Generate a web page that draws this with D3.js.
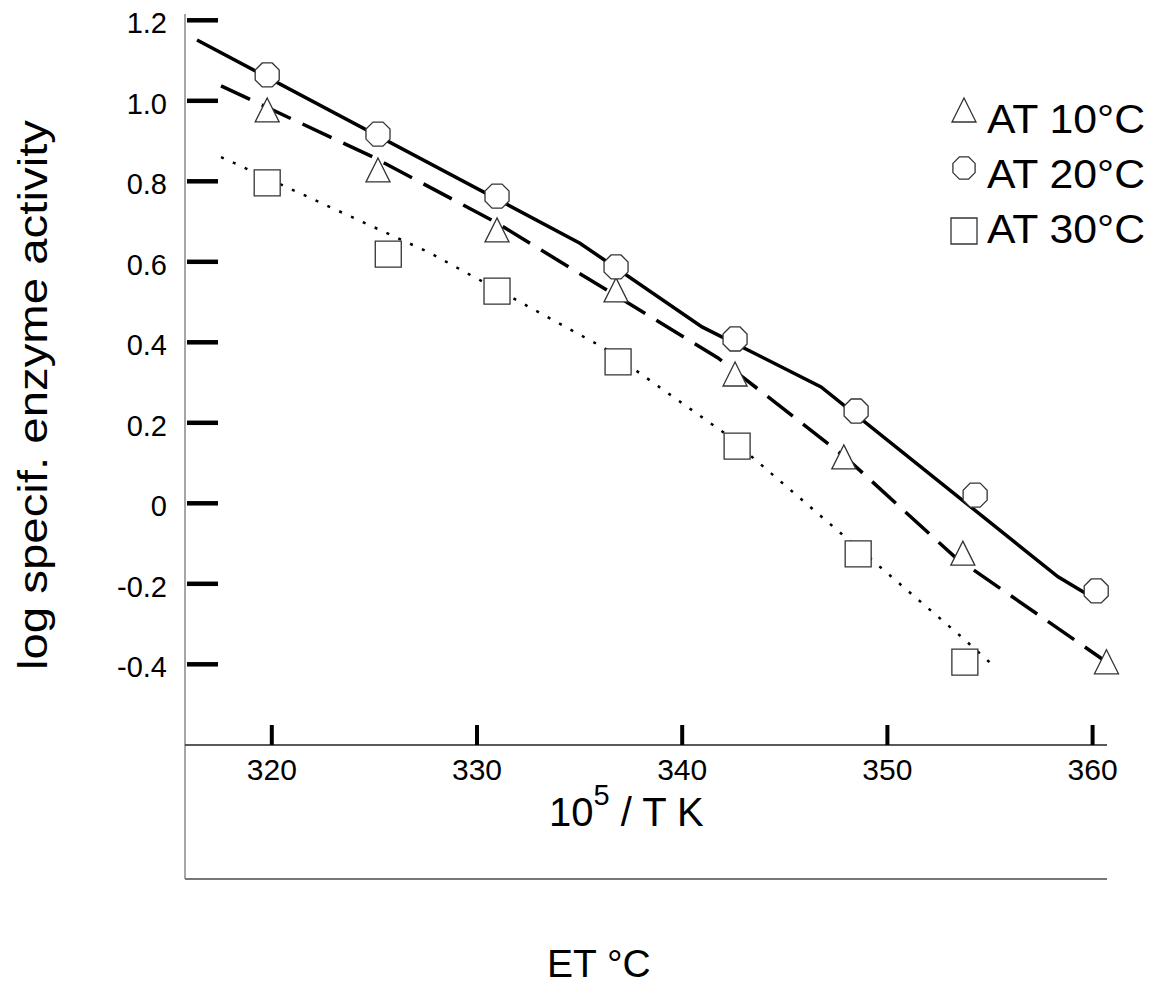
<!DOCTYPE html>
<html>
<head>
<meta charset="utf-8">
<script src="https://cdn.jsdelivr.net/npm/d3@7/dist/d3.min.js"></script>
<style>
  body { margin: 0; background: #fff; }
  text { font-family: "Liberation Sans", Arial, sans-serif; fill: #000; }
</style>
</head>
<body>
<div id="chart"></div>
<script>
// axis ticks
const xTicks = [320, 330, 340, 350, 360];
const yTicks = [-0.4, -0.2, 0, 0.2, 0.4, 0.6, 0.8, 1.0, 1.2];
const yTickLabels = ["-0.4", "-0.2", "0", "0.2", "0.4", "0.6", "0.8", "1.0", "1.2"];

const seriesNames = ["AT 10°C", "AT 20°C", "AT 30°C"];

// measured points (10^5 / T, log activity)
const x10 = [319.8, 325.2, 331.0, 336.8, 342.6, 347.9, 353.7, 360.7];
const y10 = [0.976, 0.827, 0.678, 0.529, 0.320, 0.114, -0.125, -0.395];
const x20 = [319.8, 325.2, 331.0, 336.8, 342.6, 348.5, 354.3, 360.2];
const y20 = [1.063, 0.916, 0.762, 0.586, 0.407, 0.228, 0.019, -0.219];
const x30 = [319.8, 325.7, 331.0, 336.9, 342.7, 348.6, 353.8];
const y30 = [0.795, 0.618, 0.526, 0.350, 0.141, -0.127, -0.396];

// drawn curves through the points
const fitX10 = [317.55, 324.96, 330.90, 341.77, 347.96, 353.32, 360.63];
const fitY10 = [1.036, 0.859, 0.698, 0.360, 0.114, -0.135, -0.393];
const fitX20 = [316.38, 335.04, 340.99, 346.79, 358.34, 359.76];
const fitY20 = [1.150, 0.645, 0.437, 0.288, -0.184, -0.227];
const fitX30 = [317.55, 327.73, 336.21, 342.01, 353.70, 355.26];
const fitY30 = [0.859, 0.621, 0.385, 0.176, -0.336, -0.408];

let width = 1154, height = 988;

const svg = d3.select("#chart").append("svg")
    .attr("width", width)
    .attr("height", height);

svg.append("rect").attr("width", width).attr("height", height).attr("fill", "#fff");

let x = d3.scaleLinear().domain([320, 360]).range([271.3, 1092.1]);
let y = d3.scaleLinear().domain([-0.4, 1.2]).range([663.8, 19.8]);

// frame lines
svg.append("line").attr("x1", 185).attr("x2", 185).attr("y1", 14).attr("y2", 879)
   .attr("stroke", "#888").attr("stroke-width", 1.5);
svg.append("line").attr("x1", 185).attr("x2", 1107).attr("y1", 745).attr("y2", 745)
   .attr("stroke", "#222").attr("stroke-width", 1.5);
svg.append("line").attr("x1", 185).attr("x2", 1107).attr("y1", 879).attr("y2", 879)
   .attr("stroke", "#777").attr("stroke-width", 2);

// x axis - ticks point up, labels below
let xAxis = svg.append("g")
    .attr("transform", "translate(0,745)")
    .call(d3.axisBottom(x).tickValues(xTicks).tickSize(-20).tickSizeOuter(0).tickPadding(14));
xAxis.select(".domain").remove();
xAxis.selectAll(".tick line").attr("stroke", "#000").attr("stroke-width", 4);
xAxis.selectAll(".tick text").attr("font-size", 30).attr("font-family", null);

// y axis - ticks point right
let yAxis = svg.append("g")
    .attr("transform", "translate(187,0)")
    .call(d3.axisLeft(y).tickValues(yTicks).tickFormat((d, i) => yTickLabels[i])
        .tickSize(-31).tickSizeOuter(0).tickPadding(20));
yAxis.select(".domain").remove();
yAxis.selectAll(".tick line").attr("stroke", "#000").attr("stroke-width", 4.5);
yAxis.selectAll(".tick text").attr("font-size", 29).attr("dy", "0.45em").attr("font-family", null);

// axis titles
svg.append("text")
   .attr("transform", "translate(47,395) rotate(-90)")
   .attr("text-anchor", "middle")
   .attr("font-size", 40)
   .attr("textLength", 550)
   .attr("lengthAdjust", "spacingAndGlyphs")
   .text("log specif. enzyme activity");

let xt = svg.append("text").attr("x", 549).attr("y", 826).attr("font-size", 40);
xt.append("tspan").text("10");
xt.append("tspan").attr("dy", -21).attr("font-size", 29).text("5");
xt.append("tspan").attr("dy", 21).text(" / T K");

svg.append("text").attr("x", 547).attr("y", 977).attr("font-size", 39).text("ET °C");

// curves
let line = d3.line().x(d => x(d[0])).y(d => y(d[1]));

svg.append("path").datum(d3.zip(fitX20, fitY20)).attr("d", line)
   .attr("fill", "none").attr("stroke", "#000").attr("stroke-width", 3.5);
svg.append("path").datum(d3.zip(fitX10, fitY10)).attr("d", line)
   .attr("fill", "none").attr("stroke", "#000").attr("stroke-width", 3.5)
   .attr("stroke-dasharray", "32,13");
svg.append("path").datum(d3.zip(fitX30, fitY30)).attr("d", line)
   .attr("fill", "none").attr("stroke", "#000").attr("stroke-width", 2.5)
   .attr("stroke-dasharray", "3,10");

// marker shapes
let triangle = "M0,-12L12,12L-12,12Z";
let square = "M-13,-13H13V13H-13Z";
function octagon(r) {
    let pts = d3.range(8).map(i => {
        let a = Math.PI / 8 + i * Math.PI / 4;
        return [r * Math.cos(a), r * Math.sin(a)];
    });
    return "M" + pts.join("L") + "Z";
}
let circle = octagon(13);

function markers(xs, ys, shape) {
    svg.append("g").selectAll("path")
       .data(d3.zip(xs, ys))
       .join("path")
       .attr("d", shape)
       .attr("transform", d => `translate(${x(d[0])},${y(d[1])})`)
       .attr("fill", "#fff")
       .attr("stroke", "#333")
       .attr("stroke-width", 1.3);
}
markers(x10, y10, triangle);
markers(x20, y20, circle);
markers(x30, y30, square);

// legend
let shapes = [triangle, octagon(12), square];
let markerDy = [-23, -20, -12];
let legend = svg.append("g").selectAll("g")
    .data(seriesNames)
    .join("g")
    .attr("transform", (d, i) => `translate(964,${133 + i * 55})`);
legend.append("path")
    .attr("d", (d, i) => shapes[i])
    .attr("transform", (d, i) => `translate(0,${markerDy[i]})`)
    .attr("fill", "#fff").attr("stroke", "#333").attr("stroke-width", 1.3);
legend.append("text")
    .attr("x", 23)
    .attr("font-size", 40)
    .attr("textLength", 158)
    .attr("lengthAdjust", "spacingAndGlyphs")
    .text(d => d);
</script>
</body>
</html>
